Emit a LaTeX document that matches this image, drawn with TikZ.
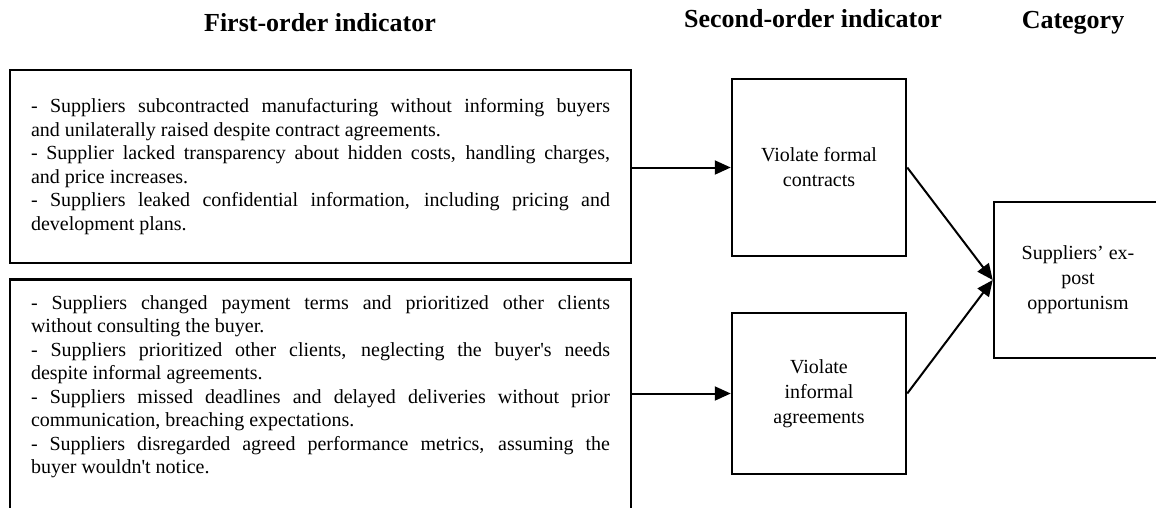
\documentclass[tikz,border=0pt]{standalone}
\usepackage{fontspec}
\setmainfont{Liberation Serif}
\usetikzlibrary{arrows.meta}

% justified list text without hyphenation
\newcommand{\listsetup}{\hyphenpenalty=10000 \tolerance=10000 \parindent=0pt }

\tikzset{
  frame/.style={draw=black, line width=2.5pt, inner sep=0pt},
  listbox/.style={frame, minimum width=621pt,
    font=\fontsize{20}{23.5}\selectfont},
  midbox/.style={frame, align=center, minimum width=174pt,
    font=\fontsize{20}{25}\selectfont},
  header/.style={anchor=base, inner sep=0pt, font=\fontsize{26}{30}\selectfont\bfseries},
  link/.style={line width=2pt, -{Triangle[length=16pt,width=14pt]}}
}

\begin{document}
\begin{tikzpicture}[x=1pt, y=-1pt]
  \useasboundingbox (0,0) rectangle (1156,507);
  \clip (0,0) rectangle (1156,507);

  % column headings
  \node[header] (h1) at (320,31) {First-order indicator};
  \node[header] (h2) at (813,27) {Second-order indicator};
  \node[header] (h3) at (1073,28) {Category};

  % first-order indicators
  \node[listbox, minimum height=193pt] (fo1) at (320.5,166.5) {%
    \begin{minipage}{579pt}\listsetup
    - Suppliers subcontracted manufacturing without informing buyers\linebreak
    and unilaterally raised despite contract agreements.\par
    - Supplier lacked transparency about hidden costs, handling charges,\linebreak
    and price increases.\par
    - Suppliers leaked confidential information, including pricing and\linebreak
    development plans.
    \end{minipage}};

  \node[listbox, anchor=north] (fo2) at (320.5,278) {%
    \begin{minipage}[c][260pt][t]{579pt}\listsetup
    \vspace*{16pt}
    - Suppliers changed payment terms and prioritized other clients\linebreak
    without consulting the buyer.\par
    - Suppliers prioritized other clients, neglecting the buyer\textquotesingle s needs\linebreak
    despite informal agreements.\par
    - Suppliers missed deadlines and delayed deliveries without prior\linebreak
    communication, breaching expectations.\par
    - Suppliers disregarded agreed performance metrics, assuming the\linebreak
    buyer wouldn\textquotesingle t notice.
    \end{minipage}};

  % second-order indicators
  \node[midbox, minimum height=177pt] (so1) at (819,167.5) {Violate formal\\contracts};
  \node[midbox, minimum height=161pt] (so2) at (819,393.5) {Violate\\informal\\agreements};

  % category
  \node[frame, align=center, minimum width=168pt, minimum height=156pt,
        font=\fontsize{20}{25}\selectfont] (cat) at (1078,280)
        {Suppliers’ ex-\\post\\opportunism};

  % connectors
  \draw[link] (so1.west -| fo1.east) -- (so1.west);
  \draw[link] (so2.west -| fo2.east) -- (so2.west);
  \draw[link] (so1.east) -- (cat.west);
  \draw[link] (so2.east) -- (cat.west);
\end{tikzpicture}
\end{document}
